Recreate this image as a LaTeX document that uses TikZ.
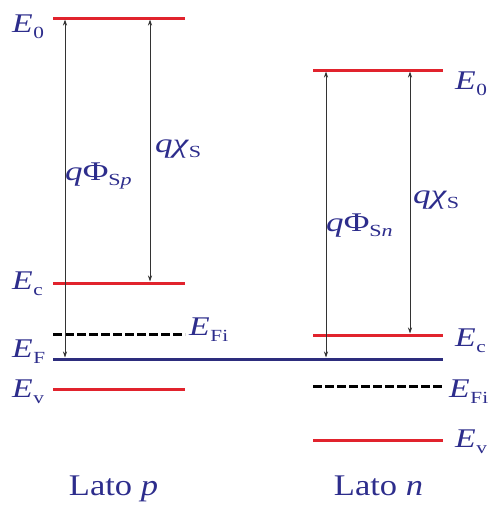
\documentclass[tikz,border=0pt]{standalone}
\usepackage{fontspec}
\usepackage{graphicx}
\setmainfont{Liberation Serif}
\usetikzlibrary{arrows.meta}
\definecolor{lvred}{RGB}{225,35,45}
\definecolor{lvblue}{RGB}{45,45,125}
\definecolor{txtblue}{RGB}{45,45,140}
\newcommand\Elbl[1]{\scalebox{1.25}[1]{\textit{E}\kern0.02em\raisebox{-0.55ex}{\fontsize{17}{17}\selectfont #1}}}
\newcommand\Sub[1]{\raisebox{-0.45ex}{\fontsize{17}{17}\selectfont #1}}
\newcommand\Wide[1]{\scalebox{1.3}[1]{#1}}
\tikzset{
  band/.style={lvred, line width=3pt},
  fermi/.style={lvblue, line width=3pt},
  intr/.style={black, line width=3pt, dash pattern=on 9pt off 3pt},
  meas/.style={black!80, line width=0.8pt, {Stealth[length=6pt,width=4pt]}-{Stealth[length=6pt,width=4pt]}},
  lbl/.style={text=txtblue, font=\fontsize{27}{27}\selectfont, inner sep=0pt},
  side/.style={text=txtblue, font=\fontsize{30}{30}\selectfont, inner sep=0pt, anchor=base},
}
\begin{document}
\begin{tikzpicture}[x=1pt,y=-1pt]
\useasboundingbox (0,0) rectangle (490,507);
% left (p) levels
\coordinate (pE0a) at (53,18);  \coordinate (pE0b) at (185,18);
\coordinate (pECa) at (53,283); \coordinate (pECb) at (185,283);
\coordinate (pFia) at (53,334); \coordinate (pFib) at (185,334);
\coordinate (pEVa) at (53,389); \coordinate (pEVb) at (185,389);
% right (n) levels
\coordinate (nE0a) at (313,70);  \coordinate (nE0b) at (443,70);
\coordinate (nECa) at (313,335); \coordinate (nECb) at (443,335);
\coordinate (nFia) at (313,386); \coordinate (nFib) at (443,386);
\coordinate (nEVa) at (313,440); \coordinate (nEVb) at (443,440);
% Fermi level
\coordinate (EFa) at (53,359); \coordinate (EFb) at (443,359);

\draw[band] (pE0a) -- (pE0b);
\draw[band] (pECa) -- (pECb);
\draw[intr] (pFia) -- (pFib);
\draw[band] (pEVa) -- (pEVb);
\draw[band] (nE0a) -- (nE0b);
\draw[band] (nECa) -- (nECb);
\draw[intr] (nFia) -- (nFib);
\draw[band] (nEVa) -- (nEVb);
\draw[fermi] (EFa) -- (EFb);

% arrows
\coordinate (a1t) at (65,19.5);  \coordinate (a1b) at (65,357.5);
\coordinate (a2t) at (150,19.5); \coordinate (a2b) at (150,281.5);
\coordinate (a3t) at (326,71.5); \coordinate (a3b) at (326,357.5);
\coordinate (a4t) at (410,71.5); \coordinate (a4b) at (410,333.5);
\draw[meas] (a1t) -- (a1b);
\draw[meas] (a2t) -- (a2b);
\draw[meas] (a3t) -- (a3b);
\draw[meas] (a4t) -- (a4b);

% level labels left
\node[lbl, anchor=base west] (lE0) at (12,32) {\Elbl{0}};
\node[lbl, anchor=base west] (lEc) at (12,289) {\Elbl{c}};
\node[lbl, anchor=base west] (lEF) at (12,357) {\Elbl{F}};
\node[lbl, anchor=base west] (lEv) at (12,397) {\Elbl{v}};
\node[lbl, anchor=base west] (lEFi) at (189,335) {\Elbl{Fi}};
% level labels right
\node[lbl, anchor=base west] (rE0) at (455,89) {\Elbl{0}};
\node[lbl, anchor=base west] (rEc) at (455,346) {\Elbl{c}};
\node[lbl, anchor=base west] (rEFi) at (449,397) {\Elbl{Fi}};
\node[lbl, anchor=base west] (rEv) at (455,447) {\Elbl{v}};

% quantity labels
\node[lbl, anchor=base west] (qPp) at (65,180) {\Wide{\textit{q}Φ\Sub{S\textit{p}}}};
\node[lbl, anchor=base west] (qXp) at (155,152) {\Wide{\textit{qχ}\Sub{S}}};
\node[lbl, anchor=base west] (qPn) at (326,231) {\Wide{\textit{q}Φ\Sub{S\textit{n}}}};
\node[lbl, anchor=base west] (qXn) at (413,203) {\Wide{\textit{qχ}\Sub{S}}};

% side labels
\node[side] (sp) at (113.5,495) {\scalebox{1.15}[1]{Lato \textit{p}}};
\node[side] (sn) at (378.5,495) {\scalebox{1.15}[1]{Lato \textit{n}}};
\end{tikzpicture}
\end{document}
